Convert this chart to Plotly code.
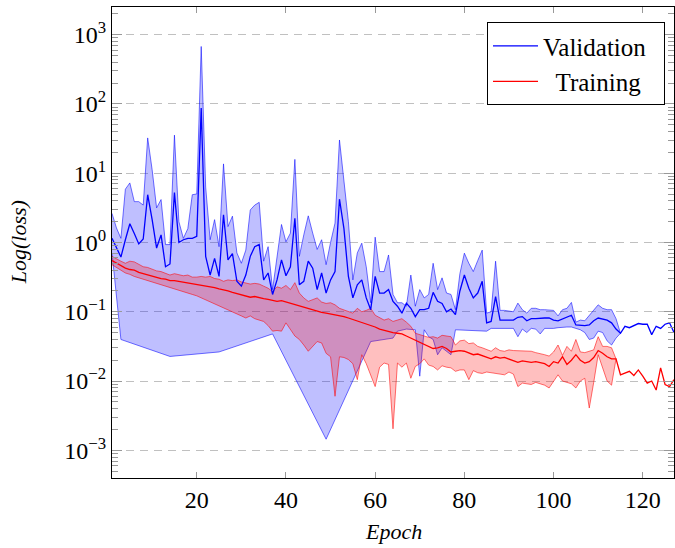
import plotly.graph_objects as go

N = None
epochs = list(range(1, 128))

# values, stored as log10(loss)
val_mean_log10 = [
    0.06, -0.08, -0.21, 0.04, 0.27, 0.13, -0.02, 0.05, 0.69, 0.33,
    -0.08, 0.11, -0.35, -0.31, 0.72, 0.0, 0.04, 0.06, 0.06, 0.09,
    1.94, -0.2, -0.47, -0.23, -0.49, 0.40, -0.25, -0.16, -0.56, -0.63,
    -0.47, -0.2, -0.06, -0.03, -0.54, -0.44, -0.75, -0.54, -0.25, -0.48,
    -0.35, 0.35, -0.61, -0.56, -0.27, -0.37, -0.68, -0.44, -0.73, -0.54,
    -0.42, 0.625, 0.2, -0.49, -0.8, -0.61, -0.54, -0.8, -0.97, -0.49,
    -0.73, -0.73, -0.68, -0.85, -0.92, -1.02, -0.875, -0.95, -1.07, -0.97,
    -0.97, -0.95, -0.72, -0.85, -0.88, -1.0, -0.96, -1.04, -0.7, -0.47,
    -0.66, -0.80, -0.73, -0.56, -1.16, -1.14, -0.78, -1.12, -1.12, -1.13,
    -1.12, -1.08, -1.07, -1.13, -1.10, -1.10, -1.09, -1.09, -1.09, -1.12,
    -1.13, -1.10, -1.08, -1.05, -1.19, -1.20, -1.20, -1.19, -1.13, -1.09,
    -1.10, -1.12, -1.16, -1.25, -1.31, -1.21, -1.23, -1.20, -1.17, -1.18,
    -1.18, -1.33, -1.21, -1.24, -1.18, -1.16, -1.30,
]
val_upper_log10 = [
    0.42, 0.21, 0.06, 0.77, 0.86, 0.59, 0.59, 0.54, 1.51, 1.05,
    0.5, 0.62, -0.03, -0.03, 1.55, 0.3, 0.06, 0.2, 0.69, 0.70,
    2.83, 0.8, 0.04, 0.33, -0.06, 1.135, 0.23, 0.38, -0.15, -0.30,
    -0.11, 0.47, 0.54, 0.58, -0.27, -0.06, -0.68, -0.2, 0.26, 0.01,
    0.135, 1.2, -0.2, 0.11, 0.385, 0.135, -0.1, 0.04, -0.32, 0.0,
    0.28, 1.48, 0.9, 0.3, -0.54, -0.15, -0.01, -0.35, -0.87, 0.077,
    -0.42, -0.42, -0.18, -0.75, -0.87, -0.87, -0.92, -0.47, -0.92, -0.68,
    -0.8, -0.75, -0.3, -0.68, -0.51, -0.73, -0.75, -0.97, -0.45, -0.154,
    -0.3, -0.42, -0.26, -0.11, -1.02, -1.0, -0.27, -0.98, -0.98, -0.99,
    -1.0, -0.875, -0.97, -1.02, -0.95, -0.95, -0.97, -0.97, -0.98, -0.98,
    -1.06, -0.97, -0.95, -0.865, -1.15, -1.12, -1.13, -1.05, -0.98, -0.90,
    -0.95, -0.97, -0.97, -1.10, -1.31,
]
val_lower_log10 = [
    -0.15, -0.78, -1.40, N, N, N, N, N, N, N,
    N, N, N, -1.645, N, N, N, N, N, N,
    N, N, N, N, -1.58, N, N, N, N, N,
    N, N, N, N, N, N, -1.32, N, N, N,
    N, N, N, N, N, N, N, N, -2.84, N,
    N, N, N, N, N, N, N, N, -1.43, N,
    N, N, N, -1.38, -1.28, N, -1.25, N, -1.26, -1.93,
    -1.26, -1.36, -1.40, -1.62, -1.52, -1.57, -1.62, -1.26, N, N,
    N, N, N, N, -1.28, -1.24, -1.25, -1.24, -1.24, -1.24,
    -1.24, -1.36, -1.25, -1.30, -1.24, -1.25, -1.32, -1.24, -1.24, -1.24,
    -1.23, -1.22, -1.22, -1.22, -1.24, -1.26, -1.30, -1.40, -1.38, -1.28,
    -1.30, -1.42, -1.48, -1.38, -1.31,
]
train_mean_log10 = [
    -0.26, -0.30, -0.34, -0.37, -0.39, -0.40, -0.43, -0.45, -0.46, -0.48,
    -0.50, -0.52, -0.53, -0.55, -0.55, -0.56, -0.58, -0.59, -0.60, -0.61,
    -0.61, -0.63, -0.64, -0.65, -0.67, -0.68, -0.70, -0.72, -0.74, -0.76,
    -0.78, -0.79, -0.78, -0.80, -0.81, -0.82, -0.84, -0.85, -0.84, -0.86,
    -0.87, -0.89, -0.91, -0.93, -0.96, -0.98, -1.00, -1.01, -1.02, -1.03,
    -1.04, -1.06, -1.07, -1.09, -1.11, -1.13, -1.15, -1.17, -1.19, -1.22,
    -1.25, -1.27, -1.29, -1.30, -1.31, -1.32, -1.35, -1.38, -1.41, -1.44,
    -1.47, -1.50, -1.53, -1.52, -1.50, -1.53, -1.58, -1.57, -1.56, -1.57,
    -1.59, -1.62, -1.61, -1.63, -1.66, -1.68, -1.65, -1.67, -1.66, -1.68,
    -1.70, -1.73, -1.71, -1.72, -1.73, -1.72, -1.74, -1.75, -1.79, -1.72,
    -1.74, -1.65, -1.76, -1.70, -1.62, -1.70, -1.74, -1.72, -1.66, -1.56,
    -1.60, -1.65, -1.68, -1.68, -1.91, -1.89, -1.86, -1.92, -1.84, -1.93,
    -2.03, -2.00, -2.13, -1.81, -2.05, -2.08, -1.98,
]
train_upper_log10 = [
    -0.20, -0.24, -0.27, -0.30, -0.27, -0.28, -0.32, -0.35, -0.36, -0.39,
    -0.41, -0.42, -0.45, -0.47, -0.45, -0.46, -0.48, -0.47, -0.50, -0.50,
    -0.49, -0.50, -0.49, -0.52, -0.53, -0.56, -0.54, -0.55, -0.54, -0.57,
    -0.58, -0.60, -0.59, -0.60, -0.63, -0.66, -0.71, -0.64, -0.66, -0.62,
    -0.68, -0.58, -0.73, -0.80, -0.85, -0.82, -0.80, -0.86, -0.88, -0.87,
    -0.90, -0.95, -0.97, -1.00, -1.02, -0.95, -1.00, -0.98, -0.95, -1.05,
    -1.08, -1.12, -1.10, -1.14, -1.12, -1.10, -1.15, -1.21, -1.31, -1.33,
    -1.36, -1.37, -1.36, -1.38, -1.34, -1.35, -1.36, -1.48, -1.42, -1.41,
    -1.46, -1.45, -1.50, -1.52, -1.55, -1.57, -1.52, -1.56, -1.57, -1.55,
    -1.56, -1.56, -1.57, -1.56, -1.57, -1.59, -1.60, -1.62, -1.64, -1.58,
    -1.48, -1.63, -1.50, -1.57, -1.40, -1.58, -1.59, -1.57, -1.55, -1.36,
    -1.50, -1.50, -1.52, -1.68,
]
train_lower_log10 = [
    -0.32, -0.36, -0.40, -0.44, -0.46, -0.49, -0.52, -0.54, -0.56, -0.58,
    -0.60, -0.62, -0.64, -0.66, -0.68, -0.70, -0.72, -0.73, -0.75, -0.77,
    -0.79, -0.82, -0.85, -0.88, -0.91, -0.94, -0.97, -1.00, -1.03, -1.06,
    -1.09, -1.06, -1.10, -1.12, -1.14, -1.20, -1.28, -1.27, -1.28, -1.16,
    -1.25, -1.35, -1.40, -1.48, -1.57, -1.50, -1.43, -1.45, -1.60, -1.65,
    -2.22, -1.65, -1.66, -1.69, -1.75, -1.98, -1.62, -1.75, -1.91, -2.08,
    -1.80, -1.74, -1.76, -2.69, -1.74, -1.80, -1.74, -1.96, -1.79, -1.75,
    -1.68, -1.77, -1.79, -1.84, -1.78, -1.80, -1.81, -1.86, -1.84, -1.84,
    -1.98, -1.85, -1.88, -1.89, -1.87, -1.88, -1.89, -1.90, -1.91, -1.87,
    -1.90, -2.08, -2.03, -2.04, -2.05, -2.02, -2.04, -2.06, -2.10, -2.00,
    -1.91, -2.00, -2.02, -2.04, -2.10, -2.00, -1.96, -2.39, -2.02, -1.62,
    -1.80, -2.00, -2.06, -1.68,
]

series_names = ["Validation\u00a0\u00a0", "\u00a0\u00a0Training"]
x_tick_values = [20, 40, 60, 80, 100, 120]
y_tick_exponents = [-3, -2, -1, 0, 1, 2, 3]


def to_loss(seq):
    return [None if v is None else 10 ** v for v in seq]


def band_polygon(upper, lower):
    n = len(upper)
    xs = list(epochs[:n])
    ys = to_loss(upper)
    low = [(e, 10 ** v) for e, v in zip(epochs[:n], lower) if v is not None]
    xs += [p[0] for p in reversed(low)]
    ys += [p[1] for p in reversed(low)]
    return xs, ys


FONT = "Liberation Serif, Times New Roman, serif"
fig = go.Figure()

vx, vy = band_polygon(val_upper_log10, val_lower_log10)
fig.add_trace(go.Scatter(x=vx, y=vy, mode="lines", fill="toself",
                         fillcolor="rgba(0,0,255,0.25)",
                         line=dict(color="rgba(0,0,255,0.55)", width=1),
                         showlegend=False, hoverinfo="skip"))
tx, ty = band_polygon(train_upper_log10, train_lower_log10)
fig.add_trace(go.Scatter(x=tx, y=ty, mode="lines", fill="toself",
                         fillcolor="rgba(255,0,0,0.25)",
                         line=dict(color="rgba(255,0,0,0.55)", width=1),
                         showlegend=False, hoverinfo="skip"))
fig.add_trace(go.Scatter(x=epochs, y=to_loss(val_mean_log10), mode="lines",
                         name=series_names[0], line=dict(color="#0000ff", width=1.3)))
fig.add_trace(go.Scatter(x=epochs, y=to_loss(train_mean_log10), mode="lines",
                         name=series_names[1], line=dict(color="#ff0000", width=1.3)))

minor_vals = [m * 10 ** k for k in range(-4, 4) for m in range(2, 10)]

fig.update_layout(
    width=675, height=548,
    margin=dict(l=112, r=1, t=7, b=70, autoexpand=False),
    paper_bgcolor="white", plot_bgcolor="white",
    font=dict(family=FONT, size=24, color="black"),
    legend=dict(x=0.984, y=0.968, xanchor="right", yanchor="top",
                bordercolor="black", borderwidth=1, bgcolor="white",
                font=dict(family=FONT, size=25, color="black"),
                itemwidth=45),
    annotations=[
        dict(text="<i>Epoch</i>", x=0.5, y=-0.1146, xref="paper", yref="paper",
             showarrow=False, xanchor="center", yanchor="middle",
             font=dict(family=FONT, size=22)),
        dict(text="<i>Log(loss)</i>", x=-0.166, y=0.5, xref="paper", yref="paper",
             showarrow=False, xanchor="center", yanchor="middle", textangle=-90,
             font=dict(family=FONT, size=22)),
    ],
)
fig.update_xaxes(range=[1, 127], tickvals=x_tick_values, ticks="inside", ticklen=6,
                 tickcolor="#999999", showline=True, linecolor="black", linewidth=1,
                 mirror="ticks", showgrid=False, zeroline=False, automargin=False,
                 tickfont=dict(family=FONT, size=24))
fig.update_yaxes(type="log", range=[-3.4, 3.4],
                 tickvals=[10 ** k for k in y_tick_exponents],
                 ticktext=["10<sup>%s</sup>" % str(k).replace("-", "\u2212") for k in y_tick_exponents],
                 ticks="inside", ticklen=10, tickcolor="#999999",
                 showline=True, linecolor="black", linewidth=1, mirror="ticks",
                 showgrid=True, gridcolor="#c0c0c0", griddash="8px,6px", gridwidth=1,
                 zeroline=False, automargin=False, tickfont=dict(family=FONT, size=24),
                 minor=dict(tickvals=minor_vals, ticks="inside", ticklen=6,
                            tickcolor="#999999", showgrid=False))

fig.write_html("out.html", config={"displayModeBar": False},
               post_script="document.body.style.margin='0';document.body.style.overflow='hidden';")
